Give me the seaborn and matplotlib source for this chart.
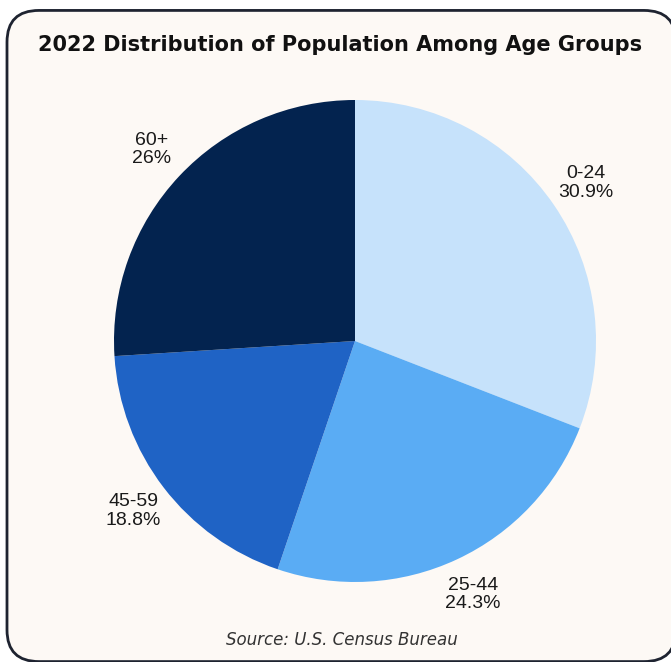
import matplotlib
matplotlib.use("Agg")
import matplotlib.pyplot as plt
import seaborn as sns
import numpy as np
from matplotlib.patches import FancyBboxPatch

# Population share by age group, 2022
age_groups = ["0-24", "25-44", "45-59", "60+"]
shares = [30.9, 24.3, 18.8, 26]
share_labels = ["30.9%", "24.3%", "18.8%", "26%"]
slice_colors = ["#c6e2fb", "#5aacf4", "#1f63c5", "#03234f"]

title_text = "2022 Distribution of Population Among Age Groups"
source_text = "Source: U.S. Census Bureau"

sns.set_theme(style="white")
plt.rcParams["font.family"] = ["Liberation Sans", "DejaVu Sans"]

W, H = 671, 662
fig = plt.figure(figsize=(W / 100, H / 100), dpi=100)
fig.patch.set_facecolor("white")

# rounded card behind the chart
x0, x1, y0, y1, rad = 7, 676, 10, 662, 32
card = FancyBboxPatch(
    ((x0 + rad) / W, 1 - (y1 - rad) / H),
    (x1 - x0 - 2 * rad) / W, (y1 - y0 - 2 * rad) / H,
    boxstyle=f"round,pad={rad / W}",
    transform=fig.transFigure, facecolor="#fdf9f5", edgecolor="#1e2330",
    linewidth=2.0, zorder=-5,
)
fig.patches.append(card)

# pie axes: centre at (355, 341) px, radius 241 px
cx, cy, r = 355, 341, 241
ax = fig.add_axes([(cx - r) / W, (H - cy - r) / H, 2 * r / W, 2 * r / H])
ax.set_zorder(2)
ax.set_facecolor("none")
ax.patch.set_alpha(0)
wedges, _ = ax.pie(
    shares, colors=slice_colors, startangle=90, counterclock=False,
    radius=1, wedgeprops=dict(linewidth=0),
)
ax.set_xlim(-1, 1)
ax.set_ylim(-1, 1)
ax.set_aspect("equal")
ax.axis("off")

for w, grp, lab in zip(wedges, age_groups, share_labels):
    mid = np.deg2rad((w.theta1 + w.theta2) / 2)
    ax.text(1.16 * np.cos(mid), 1.16 * np.sin(mid), f"{grp}\n{lab}",
            ha="center", va="center", fontsize=14, color="#1a1a1a",
            linespacing=1.1, clip_on=False)

fig.text(340 / W, 1 - 45 / H, title_text, ha="center", va="center",
         fontsize=15, fontweight="bold", color="#111111",
         family=["DejaVu Sans"])
fig.text(342 / W, 1 - 640 / H, source_text, ha="center", va="center",
         fontsize=12, style="italic", color="#333333",
         family=["DejaVu Sans"])

fig.savefig("out.png", dpi=100, facecolor="white")
